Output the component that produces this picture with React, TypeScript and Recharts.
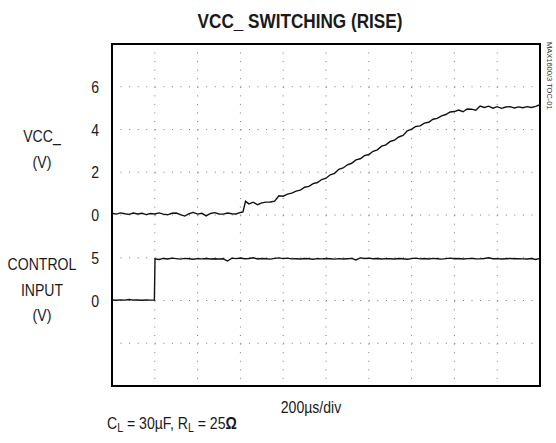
import React from 'react'
import {
  LineChart,
  Line,
  XAxis,
  YAxis,
  CartesianGrid,
  ReferenceArea,
} from 'recharts'

// time in µs (200µs/div, 10 div), values in volts
const vccTimeUs = [
  0, 20, 40, 60, 80, 100, 120, 140, 160, 180, 200, 220, 240, 260, 280, 300,
  320, 340, 360, 380, 400, 420, 440, 460, 480, 500, 520, 540, 560, 580, 600,
  612, 624, 640, 660, 680, 700, 720, 740, 760, 780, 800, 820, 840, 860, 880,
  900, 920, 940, 960, 980, 1000, 1020, 1040, 1060, 1080, 1100, 1120, 1140,
  1160, 1180, 1200, 1220, 1240, 1260, 1280, 1300, 1320, 1340, 1360, 1380,
  1400, 1420, 1440, 1460, 1480, 1500, 1520, 1540, 1560, 1580, 1600, 1620,
  1640, 1660, 1680, 1700, 1720, 1740, 1760, 1780, 1800, 1820, 1840, 1860,
  1880, 1900, 1920, 1940, 1960, 1980, 2000,
]
const vccVolts = [
  0.08, 0.04, 0.1, 0.06, 0.03, 0.09, 0.05, 0.08, 0.02, 0.07, 0.05, 0.1, 0.04,
  0.01, 0.08, 0.09, 0.02, -0.05, 0.06, 0.12, 0.04, 0.08, -0.04, 0.07, 0.11,
  0.05, 0.04, 0.09, 0.06, 0.05, 0.12,
  0.14, 0.64, 0.52, 0.6, 0.48, 0.57, 0.6, 0.61, 0.65, 0.9, 0.88, 0.98, 1.02,
  1.12, 1.16, 1.3, 1.34, 1.47, 1.52, 1.66, 1.72, 1.88, 1.95, 2.14, 2.2, 2.35,
  2.42, 2.58, 2.63, 2.78, 2.83, 2.98, 3.05, 3.22, 3.28, 3.44, 3.5, 3.65, 3.72,
  3.94, 4.02, 4.14, 4.17, 4.3, 4.34, 4.48, 4.52, 4.64, 4.7, 4.82, 4.84, 4.91,
  4.83, 4.96, 4.95, 4.9, 5.1, 5.03, 5.09, 5.0, 5.07, 4.99, 5.05, 5.07, 5.01,
  5.06, 5.02, 5.07, 5.03, 5.08, 5.16,
]

const ctlTimeUs = [
  0, 20, 40, 60, 80, 100, 120, 140, 160, 180, 198, 201, 220, 240, 260, 280,
  300, 320, 340, 360, 380, 400, 420, 440, 460, 480, 500, 520, 540, 560, 580,
  600, 620, 640, 660, 680, 700, 720, 740, 760, 780, 800, 820, 840, 860, 880,
  900, 920, 940, 960, 980, 1000, 1020, 1040, 1060, 1080, 1100, 1120, 1140,
  1160, 1180, 1200, 1220, 1240, 1260, 1280, 1300, 1320, 1340, 1360, 1380,
  1400, 1420, 1440, 1460, 1480, 1500, 1520, 1540, 1560, 1580, 1600, 1620,
  1640, 1660, 1680, 1700, 1720, 1740, 1760, 1780, 1800, 1820, 1840, 1860,
  1880, 1900, 1920, 1940, 1960, 1980, 2000,
]
const ctlVolts = [
  0.06, 0.03, 0.07, 0.04, 0.12, 0.05, 0.06, 0.03, 0.05, 0.04, 0.05,
  4.88, 4.8, 4.92, 4.86, 4.95, 4.9, 4.84, 4.93, 4.88, 4.82, 4.9, 4.87, 4.91,
  4.85, 4.89, 4.86, 4.88, 4.62, 4.95, 4.9, 4.97, 4.88, 4.92, 4.99, 4.86, 4.91,
  4.88, 4.84, 4.93, 4.98, 4.9, 4.95, 4.87, 4.89, 4.85, 4.91, 4.88, 4.82, 4.9,
  4.87, 4.92, 4.88, 4.84, 4.9, 4.86, 4.89, 4.93, 4.74, 4.98, 4.91, 4.95, 4.88,
  4.92, 4.86, 4.9, 4.89, 4.85, 4.92, 4.88, 4.83, 4.9, 4.95, 4.87, 4.91, 4.86,
  4.93, 4.89, 4.84, 4.9, 4.95, 4.88, 4.92, 4.86, 4.9, 4.93, 4.89, 4.87, 4.91,
  4.99, 4.88, 4.9, 4.86, 4.89, 4.92, 4.88, 4.9, 4.87, 4.85, 4.91, 4.8, 4.93,
]

// screen is 8 div tall: VCC_ at 2V/div (0 four div up), CONTROL at 5V/div (0 two div up)
// left labels are placed on the VCC_ scale; -4 and -2 there are CONTROL 0 and 5
const gridTicks = [-6, -4, -2, 0, 2, 4, 6]
const gridTickLabels = ['', '0', '5', '0', '2', '4', '6']
const timeDivs = [200, 400, 600, 800, 1000, 1200, 1400, 1600, 1800]

const minorX = Array.from({ length: 51 }, (_, i) => i * 40)
const minorY = Array.from({ length: 41 }, (_, i) => -8 + i * 0.4)

const FONT = '"Liberation Sans", Arial, sans-serif'
const NARROW = 0.88

const vccData = vccTimeUs.map((t, i) => ({ t, v: vccVolts[i] }))
const ctlData = ctlTimeUs.map((t, i) => ({ t, v: ctlVolts[i] }))

const NoLabel = () => <g />

const minorAxis = {
  tick: NoLabel,
  axisLine: false,
  tickSize: 3,
  mirror: true,
  interval: 0 as const,
  tickLine: { stroke: '#444' },
}

// helvetica-narrow look: squeeze Liberation Sans horizontally
const NText = ({
  x,
  y,
  size = 16,
  anchor = 'middle',
  bold = false,
  children,
}: {
  x: number
  y: number
  size?: number
  anchor?: 'start' | 'middle' | 'end'
  bold?: boolean
  children: React.ReactNode
}) => (
  <text
    transform={`translate(${x},${y}) scale(${NARROW},1)`}
    textAnchor={anchor}
    fontSize={size}
    fontWeight={bold ? 'bold' : 'normal'}
    fontFamily={FONT}
    fill="#1a1a1a"
  >
    {children}
  </text>
)

const LeftTick = (props: any) => {
  const { x, y, payload } = props
  const label = gridTickLabels[gridTicks.indexOf(payload.value)] ?? ''
  return (
    <NText x={x} y={y + 6} anchor="end">
      {label}
    </NText>
  )
}

export default function App() {
  return (
    <div style={{ position: 'absolute', left: 0, top: 0, width: 556, height: 443, background: '#fff' }}>
      <LineChart width={556} height={443} margin={{ top: 44, right: 16, bottom: 57, left: 72 }}>
        <CartesianGrid
          stroke="#777"
          strokeDasharray="1 7.56"
          horizontalValues={gridTicks}
          verticalValues={timeDivs}
        />
        <XAxis type="number" dataKey="t" domain={[0, 2000]} ticks={timeDivs} hide allowDataOverflow />
        <XAxis xAxisId="minorBottom" type="number" orientation="bottom" domain={[0, 2000]} ticks={minorX} {...minorAxis} />
        <XAxis xAxisId="minorTop" type="number" orientation="top" domain={[0, 2000]} ticks={minorX} {...minorAxis} />
        <YAxis
          type="number"
          domain={[-8, 8]}
          ticks={gridTicks}
          interval={0}
          width={40}
          axisLine={false}
          tickLine={false}
          tickSize={0}
          tickMargin={13}
          tick={LeftTick}
          allowDataOverflow
        />
        <YAxis yAxisId="ctl" type="number" domain={[-10, 30]} hide allowDataOverflow />
        <YAxis yAxisId="minorLeft" type="number" orientation="left" domain={[-8, 8]} ticks={minorY} {...minorAxis} />
        <YAxis yAxisId="minorRight" type="number" orientation="right" domain={[-8, 8]} ticks={minorY} {...minorAxis} />
        <ReferenceArea x1={0} x2={2000} y1={-8} y2={8} fill="none" stroke="#000" strokeWidth={2} />
        <Line
          data={vccData}
          dataKey="v"
          type="linear"
          stroke="#111"
          strokeWidth={1.4}
          dot={false}
          isAnimationActive={false}
        />
        <Line
          data={ctlData}
          dataKey="v"
          yAxisId="ctl"
          type="linear"
          stroke="#111"
          strokeWidth={1.4}
          dot={false}
          isAnimationActive={false}
        />
      </LineChart>
      <svg
        width={556}
        height={443}
        style={{ position: 'absolute', left: 0, top: 0, pointerEvents: 'none' }}
      >
        <NText x={300} y={28} size={19.5} bold>
          VCC_ SWITCHING (RISE)
        </NText>
        <NText x={42} y={142}>VCC_</NText>
        <NText x={42} y={168}>(V)</NText>
        <NText x={42} y={270}>CONTROL</NText>
        <NText x={42} y={296}>INPUT</NText>
        <NText x={42} y={321}>(V)</NText>
        <NText x={311} y={413}>200µs/div</NText>
        <NText x={107} y={429} anchor="start">
          C<tspan dy={3} fontSize={12}>L</tspan>
          <tspan dy={-3}> = 30µF, R</tspan>
          <tspan dy={3} fontSize={12}>L</tspan>
          <tspan dy={-3}> = 25</tspan>
          <tspan fontWeight="bold">Ω</tspan>
        </NText>
        <text
          transform="translate(546.5,42) rotate(90)"
          fontSize={7.5}
          fontFamily={FONT}
          fill="#333"
        >
          MAX1600/3 TOC-01
        </text>
      </svg>
    </div>
  )
}
